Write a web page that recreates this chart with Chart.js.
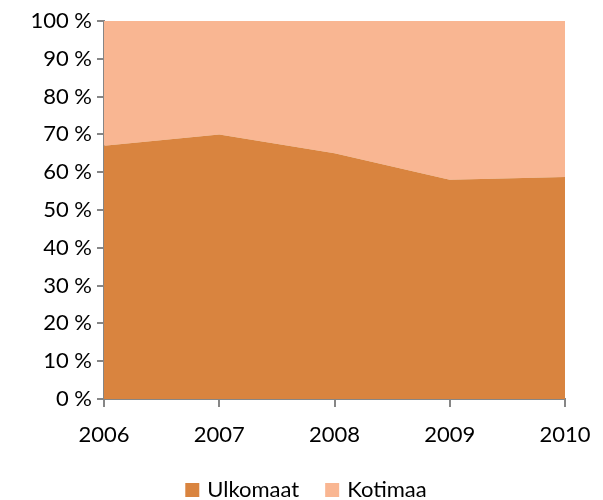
<!DOCTYPE html>
<html>
<head>
<meta charset="utf-8">
<script src="https://cdn.jsdelivr.net/npm/chart.js@4/dist/chart.umd.min.js"></script>
<style>
  html, body { margin: 0; padding: 0; background: #fff; }
  #wrap { width: 603px; height: 500px; }
</style>
</head>
<body>
<div id="wrap"><canvas id="areaChart" width="603" height="500"></canvas></div>
<script>
const years = ['2006', '2007', '2008', '2009', '2010'];
const ulkomaat = [67, 70, 65, 58, 58.7];
const kotimaa = [33, 30, 35, 42, 41.3];

const axisGrey = '#868686';
const fontFam = 'Lato, "Open Sans", sans-serif';

// legend drawn under the x labels, like the original one
const bottomLegend = {
    id: 'bottomLegend',
    afterDraw(chart) {
        const ctx = chart.ctx;
        const sets = chart.data.datasets;
        const box = 14, gapText = 8, gapItem = 26, cy = 490;
        ctx.save();
        ctx.font = '22px ' + fontFam;
        let total = 0;
        sets.forEach((d, i) => {
            total += box + gapText + ctx.measureText(d.label).width;
            if (i < sets.length - 1) total += gapItem;
        });
        let x = 306 - total / 2;
        ctx.textBaseline = 'middle';
        sets.forEach(d => {
            ctx.fillStyle = d.backgroundColor;
            ctx.fillRect(x, cy - box / 2, box, box);
            x += box + gapText;
            ctx.fillStyle = '#000';
            ctx.fillText(d.label, x, cy);
            x += ctx.measureText(d.label).width + gapItem;
        });
        ctx.restore();
    }
};

new Chart(document.getElementById('areaChart').getContext('2d'), {
    type: 'line',
    data: {
        labels: years,
        datasets: [{
            label: 'Ulkomaat',
            data: ulkomaat,
            backgroundColor: '#D9843F',
            borderColor: '#D9843F',
            borderWidth: 0,
            pointRadius: 0,
            fill: 'origin',
            tension: 0
        }, {
            label: 'Kotimaa',
            data: kotimaa,
            backgroundColor: '#F9B692',
            borderColor: '#F9B692',
            borderWidth: 0,
            pointRadius: 0,
            fill: '-1',
            tension: 0
        }]
    },
    plugins: [bottomLegend],
    options: {
        responsive: false,
        animation: false,
        layout: { padding: { top: 21, right: 38, bottom: 0, left: 0 } },
        plugins: {
            legend: { display: false },
            tooltip: { enabled: false }
        },
        scales: {
            x: {
                offset: false,
                grid: { drawOnChartArea: false, color: axisGrey, tickLength: 8, lineWidth: 2 },
                border: { color: axisGrey, width: 2 },
                ticks: { color: '#000', padding: 15, maxRotation: 0, font: { family: fontFam, size: 22 } },
                afterFit: function(s) {
                    s.height = 101;
                    s.paddingLeft = 0;
                    s.paddingRight = 0;
                }
            },
            y: {
                stacked: true,
                min: 0,
                max: 100,
                grid: { drawOnChartArea: false, color: axisGrey, tickLength: 7, lineWidth: 2 },
                border: { color: axisGrey, width: 2 },
                ticks: {
                    stepSize: 10,
                    color: '#000',
                    padding: 5,
                    font: { family: fontFam, size: 22 },
                    callback: function(v) { return v + ' %'; }
                },
                afterFit: function(s) { s.width = 104; }
            }
        }
    }
});
</script>
</body>
</html>
